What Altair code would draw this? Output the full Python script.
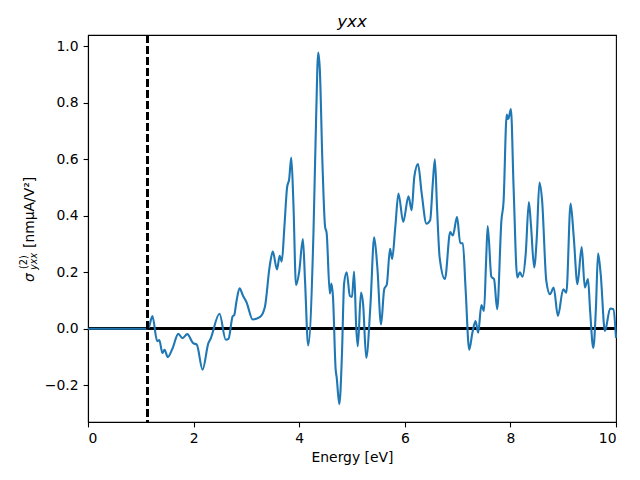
import altair as alt
import pandas as pd

energy = [0.0, 0.5, 1.0, 1.1, 1.15, 1.22, 1.31, 1.35, 1.41, 1.45, 1.51, 1.6, 1.71, 1.79, 1.88, 1.99, 2.06,
          2.17, 2.28, 2.32, 2.49, 2.61, 2.66, 2.74, 2.77, 2.81, 2.87, 2.94, 3.0, 3.12, 3.26, 3.35,
          3.44, 3.50, 3.58, 3.63, 3.67, 3.72, 3.77, 3.81, 3.85, 3.89, 3.94, 4.0, 4.07, 4.11, 4.17,
          4.27, 4.32, 4.36, 4.39, 4.44, 4.49, 4.52, 4.58, 4.61, 4.64, 4.69, 4.71, 4.76, 4.81, 4.85,
          4.90, 4.96, 5.0, 5.04, 5.08, 5.11, 5.17, 5.21, 5.27, 5.35, 5.42, 5.48, 5.55, 5.61, 5.66,
          5.72, 5.76, 5.82, 5.88, 5.97, 6.07, 6.13, 6.18, 6.25, 6.32, 6.41, 6.48, 6.53, 6.57, 6.61,
          6.66, 6.76, 6.86, 6.91, 6.99, 7.05, 7.10, 7.15, 7.22, 7.28, 7.34, 7.39, 7.45, 7.50, 7.54,
          7.57, 7.64, 7.69, 7.75, 7.83, 7.87, 7.93, 7.96, 8.01, 8.06, 8.13, 8.18, 8.23, 8.29, 8.35,
          8.39, 8.45, 8.50, 8.55, 8.60, 8.68, 8.75, 8.82, 8.90, 9.00, 9.06, 9.14, 9.20, 9.27, 9.35,
          9.41, 9.47, 9.51, 9.57, 9.62, 9.66, 9.71, 9.79, 9.89, 9.95, 10.0]
sigma = [0.0, 0.0, 0.0, 0.0, 0.005, 0.045, -0.044, -0.04, -0.086, -0.074, -0.10, -0.07, -0.018, -0.033, -0.019, -0.051, -0.056,
         -0.145, -0.051, -0.036, 0.053, -0.039, -0.036, 0.044, 0.049, 0.095, 0.143, 0.115, 0.095, 0.033, 0.042, 0.077,
         0.22, 0.273, 0.21, 0.258, 0.238, 0.362, 0.50, 0.53, 0.606, 0.446, 0.154, 0.202, 0.318, 0.172, -0.059,
         0.339, 0.743, 0.978, 0.92, 0.588, 0.362, 0.339, 0.125, 0.16, 0.113, -0.143, -0.172, -0.267, -0.089, 0.16,
         0.20, 0.116, 0.113, 0.203, 0.004, -0.062, 0.128, 0.087, -0.103, 0.087, 0.324, 0.217, 0.015, 0.14, 0.158,
         0.283, 0.247, 0.36, 0.479, 0.378, 0.469, 0.42, 0.538, 0.583, 0.479, 0.372, 0.384, 0.515, 0.60, 0.431,
         0.253, 0.176, 0.342, 0.33, 0.396, 0.303, 0.303, 0.146, -0.074, -0.014, 0.027, -0.014, 0.084, 0.063, 0.241,
         0.364, 0.184, 0.176, 0.069, 0.384, 0.449, 0.758, 0.743, 0.778, 0.503, 0.182, 0.20, 0.184, 0.265, 0.449,
         0.366, 0.217, 0.324, 0.518, 0.455, 0.17, 0.122, 0.146, 0.045, 0.14, 0.128, 0.443, 0.324, 0.158, 0.289,
         0.146, 0.176, 0.063, -0.068, 0.075, 0.267, 0.194, -0.008, 0.072, 0.069, -0.032]

gap_energy = [1.12]
zero_level = [0.0]
x_ticks = [0, 2, 4, 6, 8, 10]
y_ticks = [-0.2, 0.0, 0.2, 0.4, 0.6, 0.8, 1.0]

# y-axis label pieces (mathtext-like: sigma, superscript, subscript, unit)
ylab_main = "σ"
ylab_sup = "(2)"
ylab_sub = "yxx"
ylab_unit = "[nmμA/V²]"

df = pd.DataFrame({"energy": energy, "sigma": sigma})
one = pd.DataFrame({"k": [0]})

FONT = "DejaVu Sans"
FS = 13.9
xscale = alt.Scale(domain=[0, 10], nice=False, zero=False)
yscale = alt.Scale(domain=[-0.33, 1.04], nice=False, zero=False)

x_enc = alt.X("energy:Q", scale=xscale,
              axis=alt.Axis(title="Energy [eV]", values=x_ticks, format="d", grid=False,
                            tickSize=4.9, tickColor="black", domainColor="black", tickWidth=1.1,
                            domainWidth=1.1,
                            labelColor="black", labelFontSize=FS, labelFont=FONT,
                            titleFont=FONT, titleFontSize=FS, titleFontWeight="normal",
                            titleColor="black", labelPadding=4.5, titlePadding=5))
y_enc = alt.Y("sigma:Q", scale=yscale,
              axis=alt.Axis(title=None, values=y_ticks, format=".1f", grid=False,
                            tickSize=4.9, tickColor="black", domainColor="black", tickWidth=1.1,
                            domainWidth=1.1,
                            labelColor="black", labelFontSize=FS, labelFont=FONT,
                            labelPadding=5))

zero_line = alt.Chart(df).mark_rule(color="black", strokeWidth=2.1).encode(
    y=alt.datum(zero_level[0]))

curve = alt.Chart(df).mark_line(color="#1f77b4", strokeWidth=2.1, interpolate="monotone").encode(
    x=x_enc, y=y_enc)

gap_line = alt.Chart(df).mark_rule(
    color="black", strokeWidth=2.1, strokeDash=[7.7, 3.3]).encode(
    x=alt.datum(gap_energy[0]))


def ylab(text, x, y, size, style="normal"):
    return alt.Chart(one).mark_text(
        text=text, angle=270, align="left", baseline="alphabetic",
        font=FONT, fontSize=size, fontStyle=style, color="black").encode(
        x=alt.value(x), y=alt.value(y))


labels = [
    ylab(ylab_main, -54, 247, FS, "italic"),
    ylab(ylab_sup, -61, 234, 9.7),
    ylab(ylab_sub, -51.5, 235, 9.7, "italic"),
    ylab(ylab_unit, -54, 213, FS),
]

chart = alt.layer(zero_line, curve, gap_line, *labels).properties(
    width=528, height=387,
    background="white",
    title=alt.TitleParams("yxx", font=FONT, fontSize=16.7, fontStyle="italic",
                          fontWeight="normal", color="black", offset=3),
    autosize=alt.AutoSizeParams(type="none"),
    padding={"left": 80, "top": 27, "right": 16, "bottom": 50},
).configure_view(stroke="black", strokeWidth=1.1)

chart.save("out.html", embed_options={"renderer": "svg", "actions": False})
